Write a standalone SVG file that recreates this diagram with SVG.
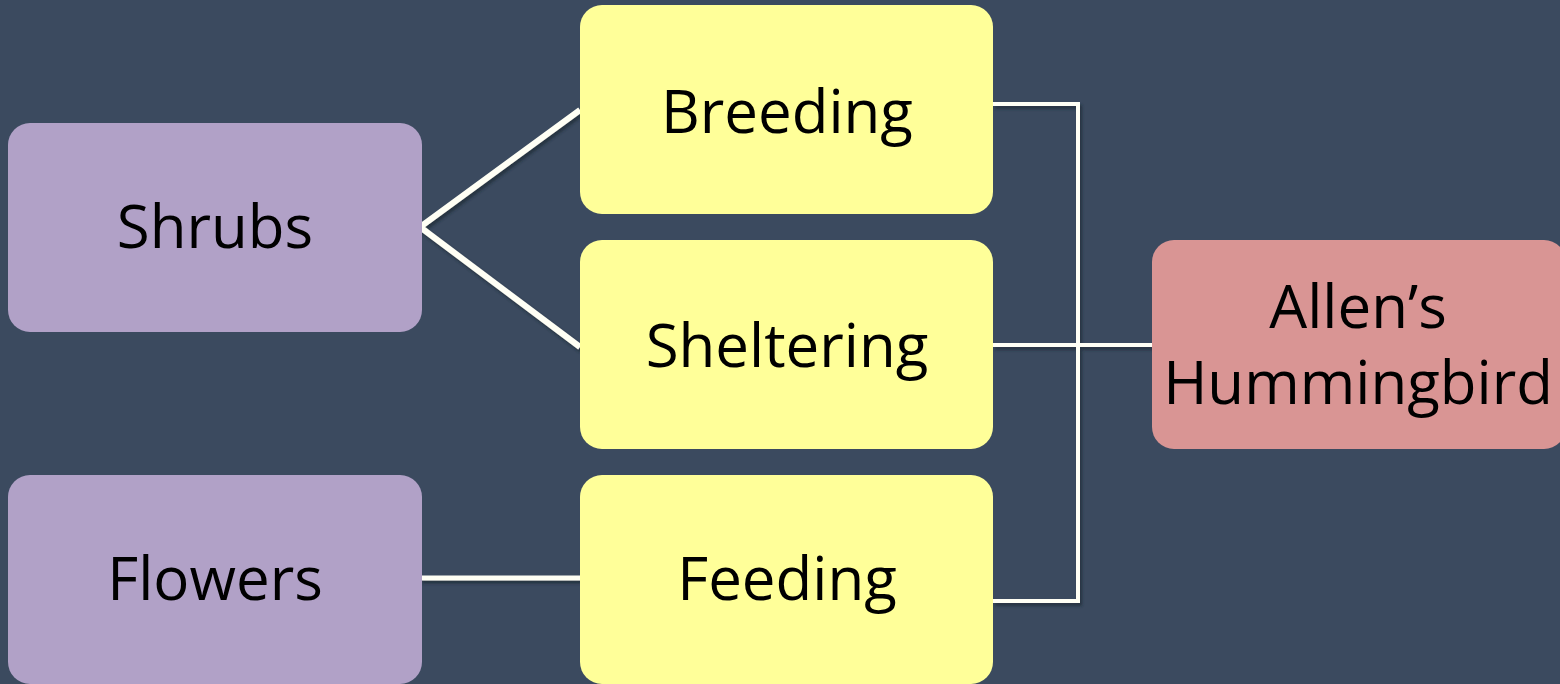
<svg xmlns="http://www.w3.org/2000/svg" width="1560" height="684" viewBox="0 0 1560 684">
<style>
.bg{fill:#3B4A5F}
.src{fill:#B1A1C7}
.use{fill:#FFFF99}
.bird{fill:#D99594}
.lbl{font-family:"Open Sans","Liberation Sans",sans-serif;font-size:60px;fill:#000;text-anchor:middle}
.ln{stroke:#FFFFF5;fill:none}
</style>
<defs>
<filter id="sh" filterUnits="userSpaceOnUse" x="0" y="0" width="1560" height="684">
<feDropShadow dx="2" dy="3" stdDeviation="1.5" flood-color="#1e2633" flood-opacity="0.7"/>
</filter>
</defs>
<rect class="bg" x="0" y="0" width="1560" height="684"/>
<g id="connectors" filter="url(#sh)">
<polyline class="ln" stroke-width="6" points="580,110 420,227 580,347"/>
<line class="ln" stroke-width="5" x1="420" y1="578" x2="580" y2="578"/>
<polyline class="ln" stroke-width="4" points="993,104 1078,104 1078,601 993,601"/>
<line class="ln" stroke-width="4" x1="993" y1="345" x2="1152" y2="345"/>
</g>
<g id="shrubs"><rect class="src" x="8" y="123" width="414" height="209" rx="22"/><text class="lbl" x="215" y="248">Shrubs</text></g>
<g id="flowers"><rect class="src" x="8" y="475" width="414" height="209" rx="22"/><text class="lbl" x="215" y="600">Flowers</text></g>
<g id="breeding"><rect class="use" x="580" y="5" width="413" height="209" rx="22"/><text class="lbl" x="787" y="133">Breeding</text></g>
<g id="sheltering"><rect class="use" x="580" y="240" width="413" height="209" rx="22"/><text class="lbl" x="787" y="367">Sheltering</text></g>
<g id="feeding"><rect class="use" x="580" y="475" width="413" height="209" rx="22"/><text class="lbl" x="787" y="600">Feeding</text></g>
<g id="allens-hummingbird"><rect class="bird" x="1152" y="240" width="414" height="209" rx="22"/><text class="lbl" x="1358" y="328">Allen’s</text><text class="lbl" x="1358" y="404">Hummingbird</text></g>
</svg>
